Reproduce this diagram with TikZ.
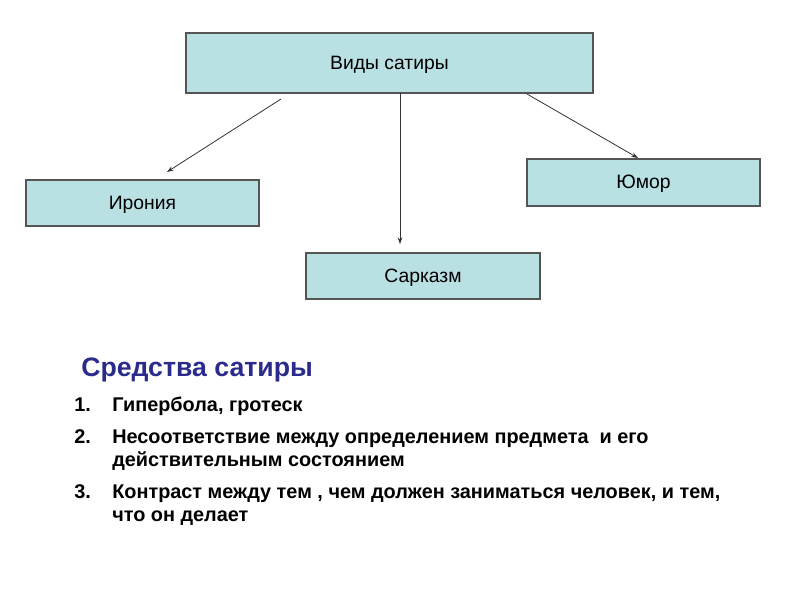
\documentclass[tikz,border=0pt]{standalone}
\usepackage{fontspec}
\setmainfont{Liberation Sans}
\usetikzlibrary{calc,arrows.meta}

\definecolor{boxfill}{RGB}{185,224,226}
\definecolor{boxline}{RGB}{85,85,85}
\definecolor{headblue}{RGB}{43,43,140}

\tikzset{
  satbox/.style={draw=boxline, fill=boxfill, line width=0.9pt, inner sep=0pt, outer sep=0pt,
    text height=9.5pt, text depth=0pt, font=\fontsize{14.5}{17}\selectfont},
  satarrow/.style={draw=black!80, line width=0.6pt, -{Stealth[length=5pt,width=3.5pt]}},
  listtext/.style={anchor=base west, inner sep=0pt, font=\fontsize{14.9}{17}\selectfont\bfseries}
}

\begin{document}
\begin{tikzpicture}[x=0.75pt,y=0.75pt,yscale=-1,xscale=1]
\useasboundingbox (0,0) rectangle (800,600);

\node [satbox, minimum width=407*0.75pt, minimum height=60*0.75pt] (top) at (389.5,63) {Виды сатиры};
\node [satbox, minimum width=233*0.75pt, minimum height=46*0.75pt] (irony) at (142.5,203) {Ирония};
\node [satbox, minimum width=234*0.75pt, minimum height=46*0.75pt] (sarcasm) at (423,276) {Сарказм};
\node [satbox, minimum width=233*0.75pt, minimum height=47*0.75pt] (humor) at (643.5,182.5) {Юмор};

\draw [satarrow] ($(top.south west)+(95,6)$) -- ($(irony.north west)+(141,-8)$);
\draw [satarrow] ($(top.south)+(10.5,0)$) -- ($(sarcasm.north)+(-23,-9)$);
\draw [satarrow] ($(top.south east)+(-66,1)$) -- ($(humor.north west)+(111,-1)$);

\node [anchor=base west, inner sep=0pt, text=headblue, font=\fontsize{20}{24}\selectfont\bfseries] (means) at (81,376) {Средства сатиры};

\node [listtext] (n1) at (74,411) {1.};
\node [listtext] (t1) at (112,411) {Гипербола, гротеск};
\node [listtext] (n2) at (74,443) {2.};
\node [listtext] (t2a) at (112,443) {Несоответствие между определением предмета\ \ и его};
\node [listtext] (t2b) at (112,466) {действительным состоянием};
\node [listtext] (n3) at (74,498) {3.};
\node [listtext] (t3a) at (112,498) {Контраст между тем , чем должен заниматься человек, и тем,};
\node [listtext] (t3b) at (112,521) {что он делает};
\end{tikzpicture}
\end{document}
